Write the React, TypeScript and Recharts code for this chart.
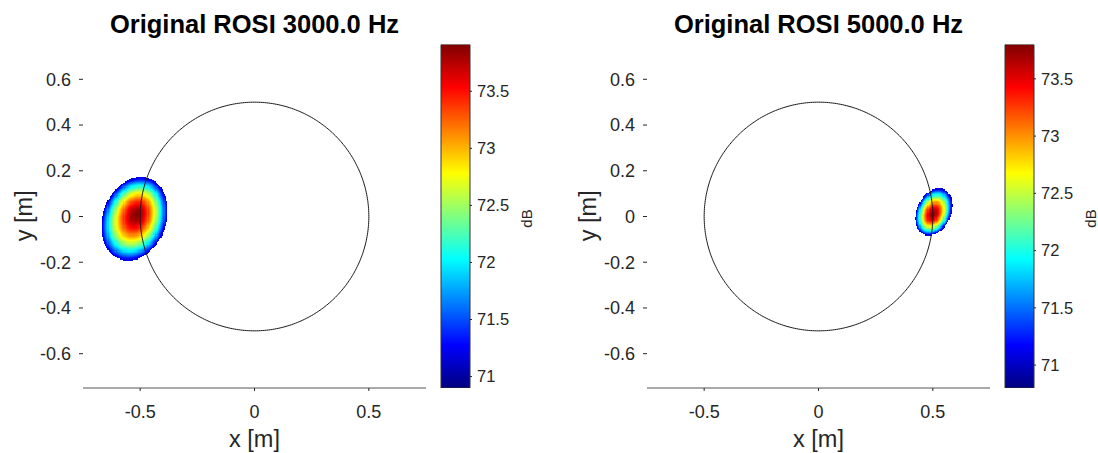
import { ScatterChart, Scatter, XAxis, YAxis, BarChart, Bar } from 'recharts';

const FONT = '"Liberation Sans", Arial, Helvetica, sans-serif';
const INK = '#262626';

// panel text and axis ticks
const titles = ['Original ROSI 3000.0 Hz', 'Original ROSI 5000.0 Hz'];
const xTicks = [-0.5, 0, 0.5];
const yTicks = [-0.6, -0.4, -0.2, 0, 0.2, 0.4, 0.6];
const axisLimit = 0.75;

// microphone array outline (m)
const arrayRadius = 0.5;

// colour limits of each map (dB) and colorbar ticks
const colorMin = [70.9, 70.8];
const colorMax = [73.91, 73.8];
const colorTicks = [71, 71.5, 72, 72.5, 73, 73.5];

// localised source spot in each map
const peakLevel = [73.91, 73.8]; // dB at the maximum
const edgeLevel = [71.15, 71.05]; // dB on the outer contour
const peakXY = [[-0.515, 0.01], [0.5, 0.009]];
const spotCenter = [[-0.525, -0.01], [0.505, 0.02]];
const spotAxes = [[0.1865, 0.138], [0.1066, 0.0737]]; // semi-axes of the outer contour (m)
const spotTilt = [70, 66]; // deg from the x axis
const falloff = [1.6, 1.6]; // level drop exponent from peak to edge

const cellStep = 0.005; // map grid spacing (m)

// layout
const PANEL_DX = 564;
const PLOT_LEFT = 83;
const PLOT_TOP = 45;
const PLOT_SIZE = 343;
const CHART_W = 440;
const CHART_H = 453;
const AX = 1; // thickness reserved for each axis
const pxPerUnit = PLOT_SIZE / (2 * axisLimit);
const cellPx = cellStep * pxPerUnit + 0.45;

const clamp = (v: number) => Math.max(0, Math.min(1, v));

function jet(t: number) {
  const u = clamp(t);
  const r = clamp(1.5 - Math.abs(4 * u - 3));
  const g = clamp(1.5 - Math.abs(4 * u - 2));
  const b = clamp(1.5 - Math.abs(4 * u - 1));
  return `rgb(${Math.round(r * 255)},${Math.round(g * 255)},${Math.round(b * 255)})`;
}

function buildCells(i: number) {
  const [px, py] = peakXY[i];
  const [cx, cy] = spotCenter[i];
  const [a, b] = spotAxes[i];
  const th = (spotTilt[i] * Math.PI) / 180;
  const c = Math.cos(th);
  const s = Math.sin(th);
  // quadratic form of the outer contour ellipse
  const q = (vx: number, vy: number, wx: number, wy: number) => {
    const u1 = vx * c + vy * s;
    const w1 = -vx * s + vy * c;
    const u2 = wx * c + wy * s;
    const w2 = -wx * s + wy * c;
    return (u1 * u2) / (a * a) + (w1 * w2) / (b * b);
  };
  const ex = px - cx;
  const ey = py - cy;
  const C = q(ex, ey, ex, ey);
  const span = colorMax[i] - colorMin[i];
  const n = Math.ceil(Math.max(a, b) / cellStep) + 1;
  const cells: { x: number; y: number; level: number; fill: string }[] = [];
  for (let kx = -n; kx <= n; kx++) {
    for (let ky = -n; ky <= n; ky++) {
      const x = cx + kx * cellStep;
      const y = cy + ky * cellStep;
      const dx = x - px;
      const dy = y - py;
      const A = q(dx, dy, dx, dy);
      let ratio = 0;
      if (A > 1e-12) {
        const B = q(ex, ey, dx, dy);
        const t = (-B + Math.sqrt(B * B - A * (C - 1))) / A;
        ratio = 1 / t;
      }
      if (ratio > 1) continue;
      const level = peakLevel[i] - (peakLevel[i] - edgeLevel[i]) * Math.pow(ratio, falloff[i]);
      cells.push({ x, y, level, fill: jet((level - colorMin[i]) / span) });
    }
  }
  return cells;
}

const outline = Array.from({ length: 361 }, (_, k) => ({
  x: arrayRadius * Math.cos((k * Math.PI) / 180),
  y: arrayRadius * Math.sin((k * Math.PI) / 180),
}));

function HeatCell(props: any) {
  const { cx, cy, payload } = props;
  if (cx == null || cy == null) return <g />;
  return (
    <rect
      x={cx - cellPx / 2}
      y={cy - cellPx / 2}
      width={cellPx}
      height={cellPx}
      fill={payload.fill}
      shapeRendering="crispEdges"
    />
  );
}

const noMarker = () => <g />;

const tickStyle = { fontSize: 18, fill: INK, fontFamily: FONT };

function MapPanel({ i }: { i: number }) {
  const cells = buildCells(i);
  const dom: [number, number] = [-axisLimit, axisLimit];
  return (
    <ScatterChart
      width={CHART_W}
      height={CHART_H}
      margin={{
        top: PLOT_TOP - AX,
        left: PLOT_LEFT - AX,
        right: CHART_W - PLOT_LEFT - PLOT_SIZE - AX,
        bottom: CHART_H - PLOT_TOP - PLOT_SIZE - AX,
      }}
    >
      <XAxis
        type="number"
        dataKey="x"
        domain={dom}
        allowDataOverflow
        ticks={xTicks}
        interval={0}
        height={AX}
        tickSize={3}
        tickMargin={14}
        tick={tickStyle}
        tickLine={{ stroke: INK }}
        axisLine={{ stroke: '#555' }}
      />
      <XAxis
        xAxisId="top"
        orientation="top"
        type="number"
        domain={dom}
        allowDataOverflow
        ticks={xTicks}
        interval={0}
        height={AX}
        tickSize={3}
        tick={false}
        tickLine={{ stroke: INK }}
        axisLine={false}
      />
      <YAxis
        type="number"
        dataKey="y"
        domain={dom}
        allowDataOverflow
        ticks={yTicks}
        interval={0}
        width={AX}
        tickSize={4}
        tickMargin={8}
        tick={tickStyle}
        tickLine={{ stroke: INK }}
        axisLine={false}
      />
      <YAxis
        yAxisId="right"
        orientation="right"
        type="number"
        domain={dom}
        allowDataOverflow
        ticks={yTicks}
        interval={0}
        width={AX}
        tickSize={3}
        tick={false}
        tickLine={{ stroke: INK }}
        axisLine={false}
      />
      <Scatter data={cells} shape={HeatCell} isAnimationActive={false} />
      <Scatter
        data={outline}
        shape={noMarker}
        line={{ stroke: '#1a1a1a', strokeWidth: 1 }}
        lineType="joint"
        isAnimationActive={false}
      />
    </ScatterChart>
  );
}

function ColorBar({ i }: { i: number }) {
  const data = [{ name: 'dB', span: [colorMin[i], colorMax[i]] }];
  return (
    <BarChart
      width={100}
      height={CHART_H}
      data={data}
      margin={{ top: 44.5, right: 70 - AX, bottom: 65, left: 1 }}
      barCategoryGap={0}
    >
      <XAxis dataKey="name" hide />
      <YAxis
        orientation="right"
        type="number"
        domain={[colorMin[i], colorMax[i]]}
        allowDataOverflow
        ticks={colorTicks}
        interval={0}
        width={AX}
        tickSize={2}
        tickMargin={5}
        axisLine={false}
        tick={{ fontSize: 16.5, fill: INK, fontFamily: FONT }}
        tickLine={{ stroke: INK }}
      />
      <Bar dataKey="span" fill="url(#jetScale)" stroke="#333" strokeWidth={1} isAnimationActive={false} />
    </BarChart>
  );
}

const gradientStops = Array.from({ length: 17 }, (_, k) => k / 16);

export default function App() {
  return (
    <div
      style={{
        position: 'absolute',
        left: 0,
        top: 0,
        width: 1098,
        height: 453,
        background: '#fff',
        fontFamily: FONT,
        overflow: 'hidden',
      }}
    >
      <svg width={0} height={0} style={{ position: 'absolute' }}>
        <defs>
          <linearGradient id="jetScale" x1="0" y1="0" x2="0" y2="1">
            {gradientStops.map((o) => (
              <stop key={o} offset={o} stopColor={jet(1 - o)} />
            ))}
          </linearGradient>
        </defs>
      </svg>
      {[0, 1].map((i) => {
        const dx = i * PANEL_DX;
        return (
          <div key={i}>
            <div style={{ position: 'absolute', left: dx, top: 0 }}>
              <MapPanel i={i} />
            </div>
            <div style={{ position: 'absolute', left: dx + 440, top: 0 }}>
              <ColorBar i={i} />
            </div>
            <div
              style={{
                position: 'absolute',
                left: dx + PLOT_LEFT - 20,
                top: 12,
                width: PLOT_SIZE + 40,
                textAlign: 'center',
                fontSize: 25.5,
                lineHeight: '25.5px',
                fontWeight: 'bold',
                color: '#000',
                whiteSpace: 'nowrap',
              }}
            >
              {titles[i]}
            </div>
            <div
              style={{
                position: 'absolute',
                left: dx + PLOT_LEFT,
                top: 428,
                width: PLOT_SIZE,
                textAlign: 'center',
                fontSize: 23.5,
                lineHeight: '23.5px',
                color: INK,
              }}
            >
              x [m]
            </div>
            <div
              style={{
                position: 'absolute',
                left: dx + 25 - 50,
                top: 216 - 11.75,
                width: 100,
                height: 23.5,
                textAlign: 'center',
                fontSize: 23.5,
                lineHeight: '23.5px',
                color: INK,
                transform: 'rotate(-90deg)',
              }}
            >
              y [m]
            </div>
            <div
              style={{
                position: 'absolute',
                left: dx + 526 - 15,
                top: 218 - 7.5,
                width: 30,
                height: 15,
                textAlign: 'center',
                fontSize: 15,
                lineHeight: '15px',
                color: INK,
                transform: 'rotate(-90deg)',
              }}
            >
              dB
            </div>
          </div>
        );
      })}
    </div>
  );
}
